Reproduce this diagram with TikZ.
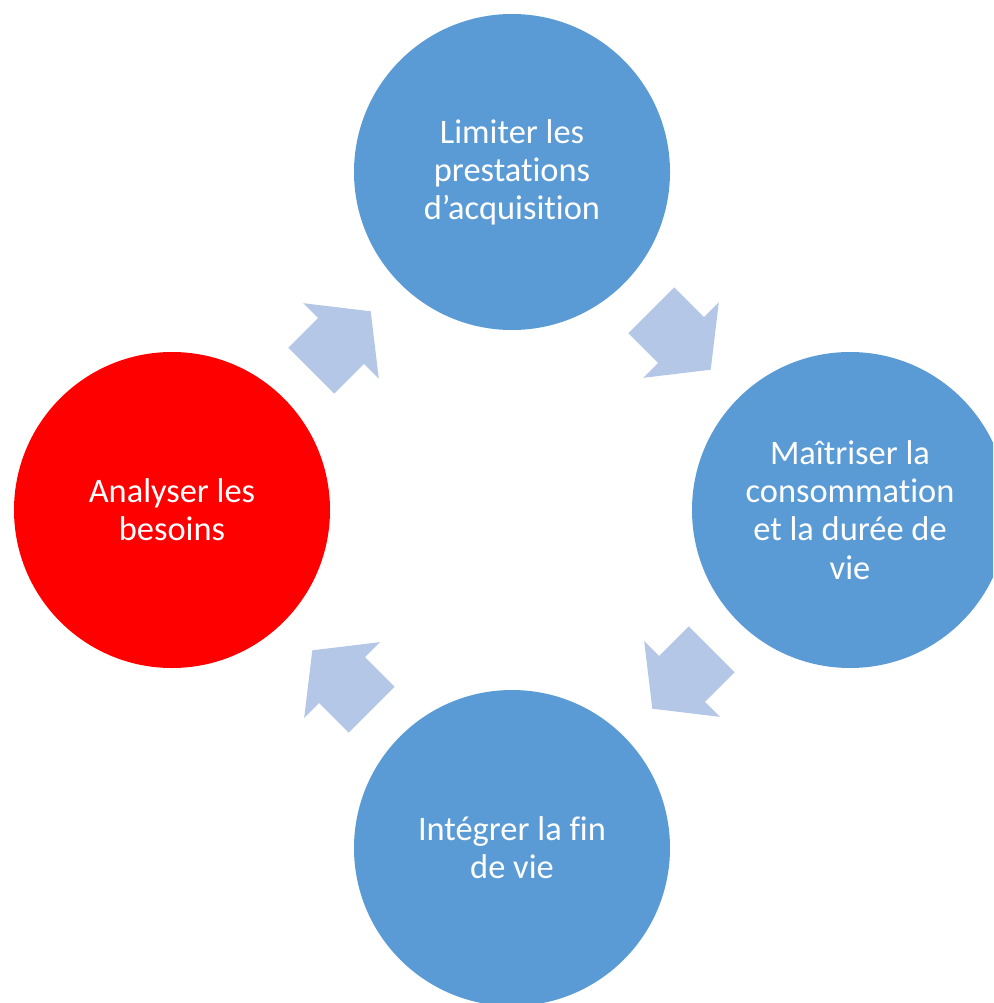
\documentclass[tikz,border=0pt]{standalone}
\usepackage{fontspec}
\setmainfont{Carlito}[Ligatures=NoCommon, RawFeature={-calt;-clig}]
\newlength{\du}
\setlength{\du}{0.75pt}
\definecolor{stageblue}{rgb}{0.356863, 0.607843, 0.835294}
\definecolor{stagered}{rgb}{1.000000, 0.000000, 0.000000}
\definecolor{flowblue}{rgb}{0.705882, 0.780392, 0.905882}
\tikzset{
  stage/.style={circle, minimum size=316\du, inner sep=0pt, fill=stageblue,
    text=white, align=center, font=\fontsize{25.8}{28.6}\selectfont},
}
% block arrow: #1 = centre, #2 = angle
\newcommand{\flowarrow}[2]{%
\begin{scope}[shift={#1}, rotate=#2]
\fill[flowblue] (-42\du,-32.5\du)--(0\du,-32.5\du)--(0\du,-53.5\du)--(42\du,0\du)--(0\du,53.5\du)--(0\du,32.5\du)--(-42\du,32.5\du)--cycle;
\end{scope}}

\begin{document}
\begin{tikzpicture}
\pgftransformxscale{1.000000}
\pgftransformyscale{-1.000000}
\useasboundingbox (0\du,0\du) rectangle (993\du,1003\du);
\clip (0\du,0\du) rectangle (993\du,1003\du);
% stages
\node[stage] (acquisition) at (512\du,172\du) {Limiter les\\prestations\\d’acquisition};
\node[stage] (consommation) at (850\du,510\du) {Maîtriser la\\consommation\\et la durée de\\vie};
\node[stage] (findevie) at (512\du,848\du) {Intégrer la fin\\de vie};
\node[stage, fill=stagered] (besoins) at (172\du,510\du) {Analyser les\\besoins};
% arrows
\flowarrow{(341\du,341\du)}{-45}
\flowarrow{(681\du,340\du)}{45}
\flowarrow{(682\du,679\du)}{135}
\flowarrow{(342\du,680\du)}{-135}
\end{tikzpicture}
\end{document}
